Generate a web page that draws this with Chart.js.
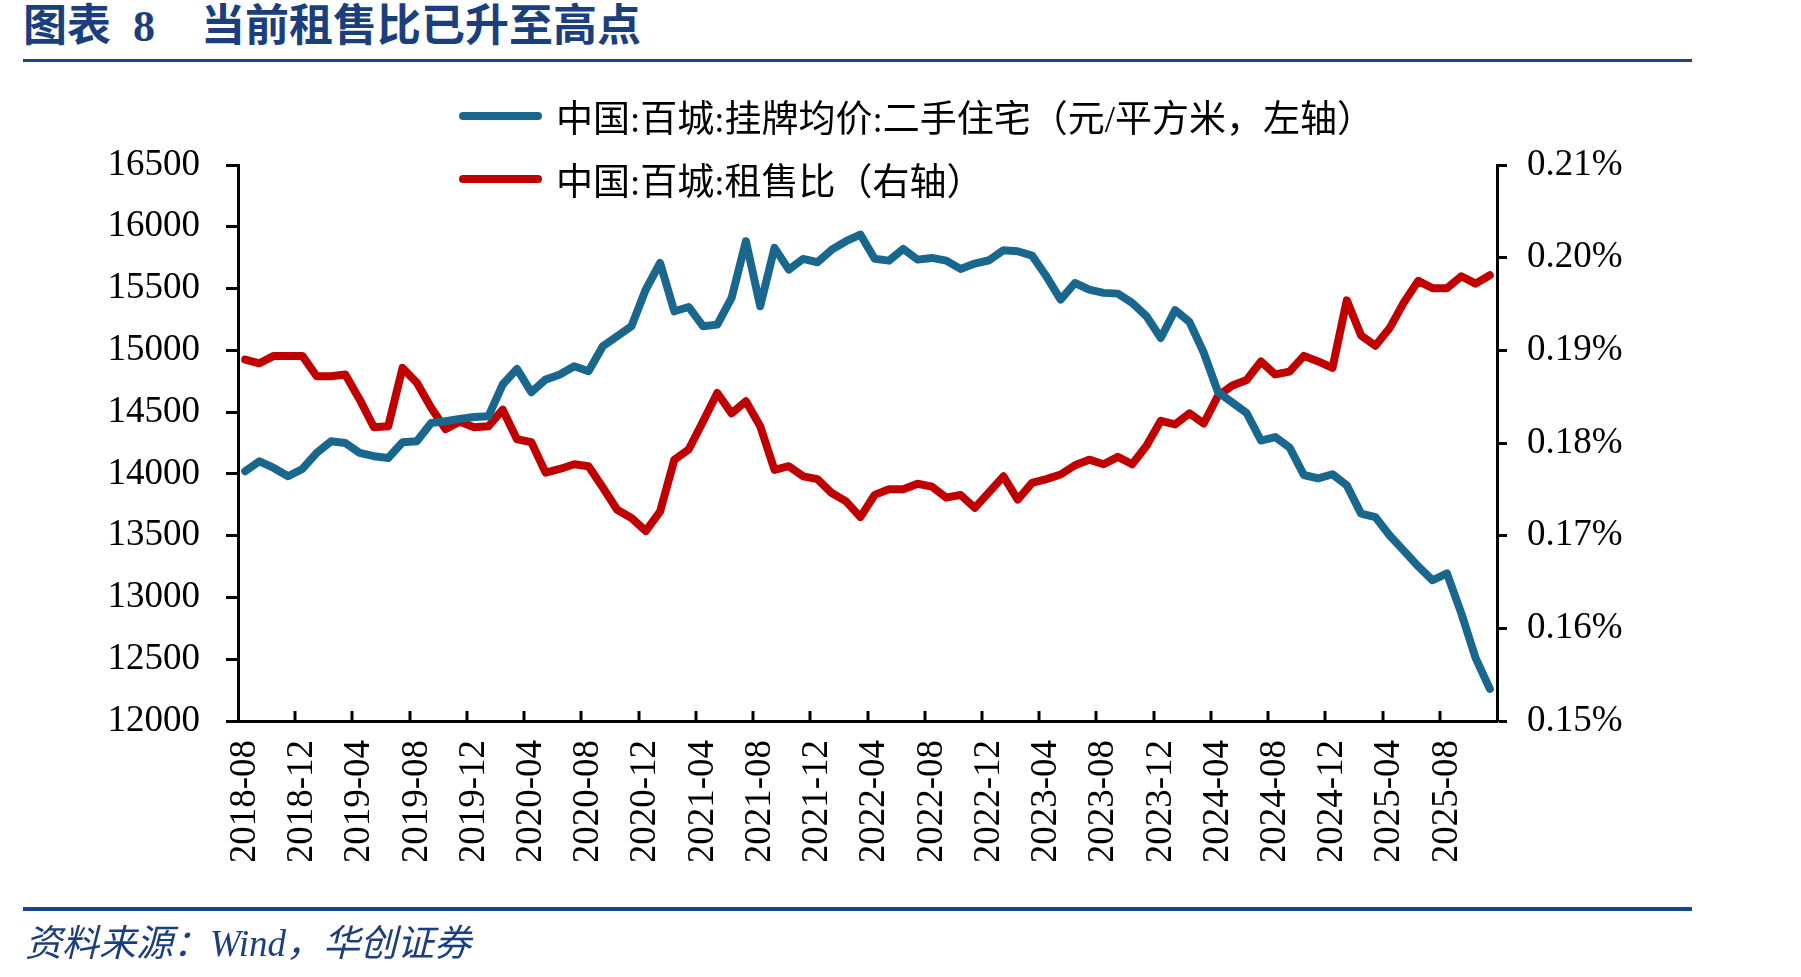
<!DOCTYPE html>
<html>
<head>
<meta charset="utf-8">
<script src="https://cdn.jsdelivr.net/npm/chart.js@4.4.1/dist/chart.umd.min.js"></script>
<style>
  body { margin: 0; background: #fff; }
  #wrap { position: relative; width: 1801px; height: 977px; overflow: hidden; background: #fff; }
  #chart { position: absolute; left: 0; top: 0; }
  .title { position: absolute; top: 0; height: 54px; line-height: 54px; font-size: 44px; font-weight: bold;
           color: #1a3f7c; font-family: "Liberation Serif", "Noto Sans CJK SC"; white-space: nowrap; }
  .rule { position: absolute; left: 23px; width: 1669px; background: #1a4585; }
  .source { position: absolute; left: 25px; top: 922px; height: 44px; line-height: 44px; font-size: 37px; font-style: italic;
            color: #1a3f7c; font-family: "Liberation Serif", "Noto Sans CJK SC"; white-space: nowrap; }
  #legend { position: absolute; left: 459px; top: 84px; }
  .item { display: flex; align-items: center; height: 63px; }
  .swatch { width: 83px; height: 8px; border-radius: 4px; margin-right: 14px; }
  .label { font-size: 37px; font-family: "Liberation Serif", "Noto Sans CJK SC"; color: #000; white-space: nowrap; }
</style>
</head>
<body>
<div id="wrap">
  <div class="title" style="left:23px;">图表&nbsp;&nbsp;8</div>
  <div class="title" style="left:201px;letter-spacing:0px;">当前租售比已升至高点</div>
  <div class="rule" style="top:59px;height:3px;"></div>
  <canvas id="chart" width="1801" height="977"></canvas>
  <div id="legend"></div>
  <div class="rule" style="top:907px;height:4px;"></div>
  <div class="source">资料来源：Wind，华创证券</div>
</div>
<script>
// months, 2018-08 .. 2025-11
const months = [
  '2018-08','2018-09','2018-10','2018-11','2018-12',
  '2019-01','2019-02','2019-03','2019-04','2019-05','2019-06','2019-07','2019-08','2019-09','2019-10','2019-11','2019-12',
  '2020-01','2020-02','2020-03','2020-04','2020-05','2020-06','2020-07','2020-08','2020-09','2020-10','2020-11','2020-12',
  '2021-01','2021-02','2021-03','2021-04','2021-05','2021-06','2021-07','2021-08','2021-09','2021-10','2021-11','2021-12',
  '2022-01','2022-02','2022-03','2022-04','2022-05','2022-06','2022-07','2022-08','2022-09','2022-10','2022-11','2022-12',
  '2023-01','2023-02','2023-03','2023-04','2023-05','2023-06','2023-07','2023-08','2023-09','2023-10','2023-11','2023-12',
  '2024-01','2024-02','2024-03','2024-04','2024-05','2024-06','2024-07','2024-08','2024-09','2024-10','2024-11','2024-12',
  '2025-01','2025-02','2025-03','2025-04','2025-05','2025-06','2025-07','2025-08','2025-09','2025-10','2025-11'
];

// 中国:百城:挂牌均价:二手住宅 (元/平方米)
const listPrice = [
  14021,14102,14048,13981,14040,
  14170,14264,14250,14170,14143,14129,14256,14264,14412,14426,14445,14461,
  14466,14723,14850,14661,14763,14804,14871,14831,15033,15114,15195,15492,
  15707,15316,15351,15195,15208,15424,15883,15357,15829,15653,15740,15713,
  15815,15883,15937,15741,15726,15821,15734,15748,15726,15659,15702,15729,
  15810,15802,15767,15599,15411,15545,15492,15465,15459,15384,15276,15100,
  15325,15230,14982,14661,14577,14493,14270,14298,14214,13991,13963,13997,
  13907,13678,13650,13502,13377,13251,13139,13195,12874,12511,12260
];

// 中国:百城:租售比 (%)
const rentRatio = [
  0.1890,0.1886,0.1894,0.1894,0.1894,
  0.1872,0.1872,0.1874,0.1847,0.1817,0.1818,0.1881,0.1865,0.1838,0.1815,0.1823,0.1817,
  0.1818,0.1836,0.1804,0.1801,0.1768,0.1772,0.1777,0.1775,0.1752,0.1728,0.1719,0.1705,
  0.1726,0.1782,0.1793,0.1823,0.1854,0.1832,0.1845,0.1818,0.1771,0.1775,0.1764,0.1761,
  0.1746,0.1737,0.1720,0.1744,0.1750,0.1750,0.1756,0.1753,0.1741,0.1744,0.1730,0.1747,
  0.1764,0.1739,0.1757,0.1761,0.1766,0.1776,0.1782,0.1777,0.1785,0.1777,0.1797,0.1824,
  0.1820,0.1832,0.1821,0.1851,0.1862,0.1868,0.1888,0.1874,0.1877,0.1894,0.1888,0.1881,
  0.1954,0.1916,0.1905,0.1924,0.1952,0.1975,0.1967,0.1967,0.1980,0.1972,0.1981
];

const seriesNames = ['中国:百城:挂牌均价:二手住宅（元/平方米，左轴）', '中国:百城:租售比（右轴）'];
const seriesColors = ['#1a678e', '#c00000'];

const labelEvery = 4;

// small tick marks on the x axis, pointing into the plot, between categories
const xTickMarks = {
  id: 'xTickMarks',
  afterDraw(chart) {
    const x = chart.scales.x;
    const ctx = chart.ctx;
    const half = (x.getPixelForValue(1) - x.getPixelForValue(0)) / 2;
    ctx.save();
    ctx.strokeStyle = '#000';
    ctx.lineWidth = 3;
    for (let i = labelEvery; i < months.length; i += labelEvery) {
      const px = Math.round(x.getPixelForValue(i) - half);
      ctx.beginPath();
      ctx.moveTo(px, x.top);
      ctx.lineTo(px, x.top - 10);
      ctx.stroke();
    }
    ctx.restore();
  }
};

Chart.defaults.font.family = '"Liberation Serif", "Noto Sans CJK SC"';
Chart.defaults.color = '#000';

const chart = new Chart(document.getElementById('chart').getContext('2d'), {
  type: 'line',
  data: {
    labels: months,
    datasets: [
      {
        label: seriesNames[0],
        data: listPrice,
        yAxisID: 'y',
        borderColor: seriesColors[0],
        backgroundColor: seriesColors[0],
        borderWidth: 8,
        pointRadius: 0,
        tension: 0,
        borderCapStyle: 'round',
        borderJoinStyle: 'round'
      },
      {
        label: seriesNames[1],
        data: rentRatio,
        yAxisID: 'y1',
        borderColor: seriesColors[1],
        backgroundColor: seriesColors[1],
        borderWidth: 8,
        pointRadius: 0,
        tension: 0,
        borderCapStyle: 'round',
        borderJoinStyle: 'round'
      }
    ]
  },
  options: {
    responsive: false,
    animation: false,
    layout: { padding: { top: 165, bottom: 116, left: 0, right: 0 } },
    plugins: {
      legend: { display: false },
      tooltip: { enabled: false }
    },
    scales: {
      x: {
        offset: true,
        grid: { display: false, drawTicks: false, offset: true },
        border: { display: true, color: '#000', width: 3 },
        ticks: {
          autoSkip: false,
          maxRotation: 90,
          minRotation: 90,
          padding: 19,
          font: { size: 37 },
          callback: function (value, index) {
            return index % labelEvery === 0 ? months[index] : null;
          }
        },
        afterFit: (s) => { s.height = 140; }
      },
      y: {
        position: 'left',
        min: 12000,
        max: 16500,
        ticks: { stepSize: 500, padding: 26, font: { size: 37 }, callback: (v) => String(v) },
        grid: { drawOnChartArea: false, drawTicks: true, tickLength: 12, tickWidth: 3, tickColor: '#000' },
        border: { display: true, color: '#000', width: 3 },
        afterFit: (s) => { s.width = 238; }
      },
      y1: {
        position: 'right',
        min: 0.15,
        max: 0.21,
        ticks: {
          stepSize: 0.01,
          padding: 20,
          font: { size: 37 },
          callback: (v) => v.toFixed(2) + '%'
        },
        grid: { drawOnChartArea: false, drawTicks: true, tickLength: 10, tickWidth: 3, tickColor: '#000' },
        border: { display: true, color: '#000', width: 3 },
        afterFit: (s) => { s.width = 304; }
      }
    }
  },
  plugins: [xTickMarks]
});

// legend, one series per row
const legendBox = document.getElementById('legend');
chart.data.datasets.forEach((ds) => {
  const row = document.createElement('div');
  row.className = 'item';
  const sw = document.createElement('span');
  sw.className = 'swatch';
  sw.style.background = ds.borderColor;
  const txt = document.createElement('span');
  txt.className = 'label';
  txt.textContent = ds.label;
  row.appendChild(sw);
  row.appendChild(txt);
  legendBox.appendChild(row);
});
</script>
</body>
</html>
